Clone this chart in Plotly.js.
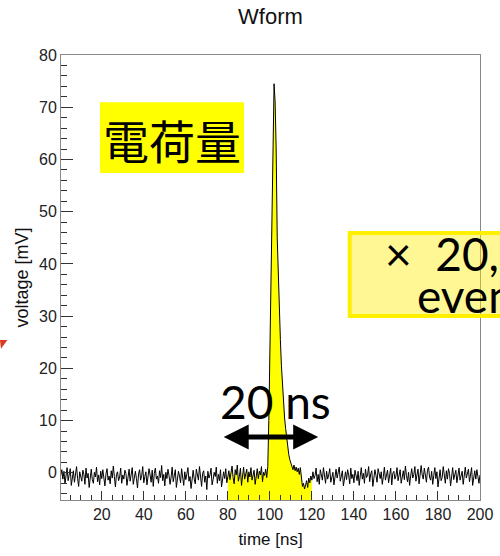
<!DOCTYPE html>
<html>
<head>
<meta charset="utf-8">
<script src="https://cdn.plot.ly/plotly-3.0.1.min.js"></script>
<style>html,body{margin:0;padding:0;background:#fff;}#chart{width:500px;height:556px;}</style>
</head>
<body>
<div id="chart"></div>
<script>
// Sampling of the waveform (ns)
const T0 = 0.5;
const DT = 0.5;
// Waveform samples (mV), one per DT starting at T0
const voltage = [
 -0.5,0.6,-1.2,0.3,-2.1,-0.4,1.0,-1.5,-0.2,0.8,-2.4,-0.9,0.4,-1.8,-0.6,1.2,-1.1,-2.6,0.2,-0.7,
 -1.6,0.5,-0.3,-2.2,0.9,-1.0,-0.1,-2.8,-0.5,0.7,-1.3,-2.0,0.1,-0.8,1.1,-1.7,-0.4,-2.3,0.3,-1.1,
 0.6,-0.9,-2.5,-0.2,0.8,-1.4,-0.6,-2.1,0.4,-1.0,1.3,-0.7,-2.7,-0.3,0.2,-1.5,-0.8,0.9,-2.0,-0.4,
 -1.2,0.5,-0.1,-2.4,-0.9,0.7,-1.6,-0.3,1.0,-2.2,-0.6,0.3,-1.1,-2.9,-0.2,0.6,-1.4,-0.5,1.2,-1.9,
 -0.7,0.2,-2.3,-1.0,0.8,-0.4,-1.8,0.5,-2.6,-0.1,0.9,-1.2,-0.6,-2.0,0.4,-0.9,1.4,-1.5,-0.3,-2.5,
 0.1,-1.1,0.7,-0.5,-2.2,-0.8,1.1,-1.7,-0.2,0.6,-2.8,-1.0,0.3,-0.6,-1.9,0.8,-0.4,-2.4,0.2,-1.3,
 -0.2,1.0,-1.6,-0.7,-3.0,-0.3,0.5,-1.2,-2.1,0.7,-0.5,-1.4,1.2,-0.9,-2.6,-0.1,0.4,-1.8,-0.6,-3.2,
 0.3,-1.0,-0.4,0.9,-2.3,-1.3,0.1,-0.7,1.1,-2.0,-0.3,-1.5,0.6,-2.7,-0.8,0.2,-1.1,0.8,-1.9,-0.5,
 0.4,-1.3,-0.2,1.3,-0.9,-2.1,0.6,-0.4,1.5,-1.6,-0.7,0.9,-2.4,-0.1,1.1,-1.2,-0.5,0.7,-1.8,0.2,
 -0.8,1.0,-1.4,-0.3,0.5,-2.2,-0.6,0.8,-1.1,0.3,-0.4,1.2,-1.7,0.1,-0.5,0.7,-0.9,1.2,10,22,
 30,45,61,74.5,71,62,45,37,31,25.5,20.5,16.5,13,10.5,8.5,6.5,5,3.5,2.5,1.8,
 1.2,0.6,1.5,0.4,1.1,0.2,0.9,-0.3,1.0,-1.2,-2.6,-2.0,-3.1,-2.3,-1.5,-2.8,-1.0,-1.9,-0.6,-1.4,
 0.2,-1.1,-0.5,0.9,-1.7,-0.3,-2.2,0.6,-0.8,-1.4,1.0,-0.6,-2.0,0.3,-1.2,-0.4,0.8,-1.8,-0.9,0.1,
 -2.3,-0.5,0.7,-1.0,-0.2,1.1,-1.6,-0.7,0.4,-2.5,-0.9,0.2,-1.3,0.6,-0.4,-2.1,0.9,-1.1,-0.3,-1.9,
 0.5,-0.8,-1.5,0.3,-2.4,-0.6,1.0,-1.2,-0.1,-2.0,0.7,-0.9,-0.4,1.2,-1.7,-0.2,0.4,-2.6,-1.0,0.6,
 -0.5,-1.8,0.8,-0.3,-1.1,0.2,-2.2,-0.7,1.1,-1.4,-0.4,0.5,-1.9,-0.8,0.9,-2.3,-0.1,0.3,-1.2,-0.6,
 1.0,-1.5,-0.2,0.6,-2.0,-0.9,0.4,-1.3,1.3,-0.5,-1.7,0.1,-2.4,-0.6,0.8,-1.0,-0.3,1.2,-1.6,-0.4,
 0.7,-2.1,-0.7,1.4,-0.4,-1.2,0.9,-0.2,-1.8,0.5,1.1,-0.8,-1.4,0.3,-2.2,-0.5,1.0,-1.1,0.2,-2.7,
 -0.3,0.6,-1.5,-0.9,1.2,-0.6,-2.0,0.4,-1.2,0.8,-0.1,-2.5,-0.7,1.0,-1.3,-0.4,0.5,-1.9,-0.2,0.9,
 -1.4,-0.6,0.3,-2.2,-0.8,1.1,-1.0,-0.3,0.7,-1.7,-0.5,1.0,-2.4,-0.9,0.4,-1.2,0.6,-0.7,-2.0,-0.4
];
// Integration window (ns) shown in yellow
const windowRange = [80, 120];
// Axis ranges
const xRange = [0.6, 200];
const yRange = [-5.2, 80];
// Texts
const titleText = "Wform";
const xTitle = "time [ns]";
const yTitle = "voltage [mV]";
const chargeLabel = "電荷量";
const widthLabel = "20 ns";
const eventsLine1 = "× &nbsp;20,";
const eventsLine2 = "events";

const i0 = Math.round((windowRange[0] - T0) / DT);
const i1 = Math.round((windowRange[1] - T0) / DT);

const traces = [
  { type: "scatter", mode: "lines", x: windowRange, y: [yRange[0], yRange[0]],
    line: { width: 0, color: "rgba(0,0,0,0)" }, hoverinfo: "skip", showlegend: false },
  { type: "scatter", mode: "lines", x0: T0 + i0 * DT, dx: DT, y: voltage.slice(i0, i1 + 1),
    fill: "tonexty", fillcolor: "#ffff00", line: { width: 0, color: "rgba(0,0,0,0)" },
    hoverinfo: "skip", showlegend: false },
  { type: "scatter", mode: "lines", x0: T0, dx: DT, y: voltage,
    line: { width: 1, color: "#000" }, showlegend: false }
];

const axisFont = { family: "Liberation Sans, Arial, sans-serif", size: 16, color: "#222" };
const layout = {
  width: 500, height: 556,
  margin: { l: 61, r: 20, t: 55, b: 56 },
  paper_bgcolor: "#fff", plot_bgcolor: "#fff",
  showlegend: false,
  title: { text: titleText, x: 0.541, xanchor: "center", y: 0.97, yanchor: "middle",
           font: { family: "Liberation Sans, Arial, sans-serif", size: 22, color: "#111" } },
  xaxis: {
    range: xRange, tickmode: "linear", tick0: 0, dtick: 20,
    ticks: "inside", ticklen: 9, tickcolor: "#333", tickwidth: 1,
    showline: true, linecolor: "#888", linewidth: 1, mirror: true,
    showgrid: false, zeroline: false, tickfont: axisFont,
    minor: { ticks: "inside", ticklen: 5, dtick: 5, tick0: 0, tickcolor: "#333", showgrid: false },
    title: { text: xTitle, standoff: 10, font: { family: "Liberation Sans, Arial, sans-serif", size: 17, color: "#111" } }
  },
  yaxis: {
    range: yRange, tickmode: "linear", tick0: 0, dtick: 10,
    ticks: "inside", ticklen: 12, tickcolor: "#333", tickwidth: 1,
    showline: true, linecolor: "#888", linewidth: 1, mirror: true,
    showgrid: false, zeroline: false, tickfont: axisFont,
    minor: { ticks: "inside", ticklen: 6, dtick: 2, tick0: 0, tickcolor: "#333", showgrid: false },
    title: { text: yTitle, standoff: 5, font: { family: "Liberation Sans, Arial, sans-serif", size: 18, color: "#111" } }
  },
  shapes: [
    { type: "rect", xref: "paper", yref: "paper", x0: 0.093, x1: 0.4368, y0: 0.735, y1: 0.894,
      fillcolor: "#ffff00", line: { width: 0 }, layer: "above" },
    { type: "rect", xref: "paper", yref: "paper", x0: 0.689, x1: 1.2, y0: 0.4135, y1: 0.6,
      fillcolor: "rgba(255,236,0,0.42)", line: { width: 4, color: "#fff000" }, layer: "above" },
    { type: "path", xref: "paper", yref: "paper",
      path: "M -0.1456 0.3596 L -0.128 0.3596 L -0.1432 0.3400 Z",
      fillcolor: "#d63a22", line: { width: 0 }, layer: "above" }
  ],
  annotations: [
    { xref: "paper", yref: "paper", x: 0.265, y: 0.812, xanchor: "center", yanchor: "middle",
      text: chargeLabel, showarrow: false,
      font: { family: "Noto Sans CJK JP", size: 46, color: "#000" } },
    { xref: "paper", yref: "paper", x: 0.513, y: 0.222, xanchor: "center", yanchor: "middle",
      text: widthLabel, showarrow: false,
      font: { family: "Lato, Noto Sans, sans-serif", size: 46, color: "#000" } },
    { xref: "x", yref: "y", axref: "x", ayref: "y", x: 123.0, y: 6.86, ax: 77.3, ay: 6.86,
      text: "", showarrow: true, arrowside: "end+start", arrowhead: 2, startarrowhead: 2,
      arrowwidth: 5, arrowsize: 1, startarrowsize: 1, arrowcolor: "#000" },
    { xref: "paper", yref: "paper", x: 0.768, y: 0.553, xanchor: "left", yanchor: "middle",
      text: eventsLine1, showarrow: false,
      font: { family: "Lato, Noto Sans, sans-serif", size: 46, color: "#000" } },
    { xref: "paper", yref: "paper", x: 0.845, y: 0.46, xanchor: "left", yanchor: "middle",
      text: eventsLine2, showarrow: false,
      font: { family: "Lato, Noto Sans, sans-serif", size: 46, color: "#000" } }
  ]
};

Plotly.newPlot("chart", traces, layout, { staticPlot: true, displayModeBar: false });
</script>
</body>
</html>
